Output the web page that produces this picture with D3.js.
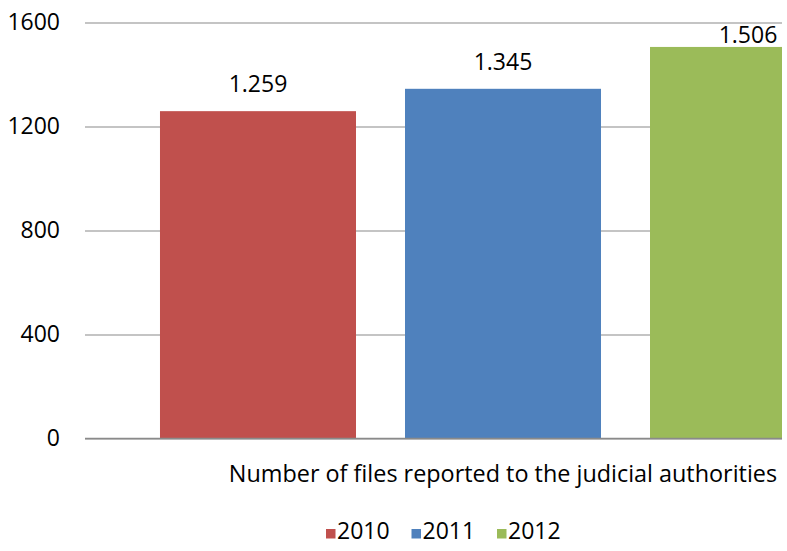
<!DOCTYPE html>
<html>
<head>
<meta charset="utf-8">
<script src="https://cdn.jsdelivr.net/npm/d3@7"></script>
<style>
  body { margin: 0; background: #fff; }
  svg text { font-family: "Open Sans", sans-serif; fill: #000; }
</style>
</head>
<body>
<div id="chart"></div>
<script>
// data
const category = 'Number of files reported to the judicial authorities';
const years = ['2010', '2011', '2012'];
const values = [1259, 1345, 1506];
const labels = ['1.259', '1.345', '1.506'];
const yTicks = [0, 400, 800, 1200, 1600];
const colors = ['#C0504D', '#4F81BD', '#9BBB59'];

const W = 787, H = 551;
const MARGIN = { LEFT: 85, TOP: 22.5 };
const PLOT_W = 836, PLOT_H = 416;
const CLIP_W = 697; // the reference is cut off on the right

const svg = d3.select('#chart')
    .append('svg')
    .attr('width', W)
    .attr('height', H);

const y = d3.scaleLinear()
    .domain([0, 1600])
    .range([MARGIN.TOP + PLOT_H, MARGIN.TOP]);

const x0 = d3.scaleBand()
    .domain([category])
    .range([MARGIN.LEFT, MARGIN.LEFT + PLOT_W])
    .paddingInner(0)
    .paddingOuter(0.1093);

const x1 = d3.scaleBand()
    .domain(years)
    .range([0, x0.bandwidth()])
    .paddingInner(0.2)
    .paddingOuter(0);

svg.append('clipPath')
    .attr('id', 'clip')
    .append('rect')
    .attr('x', MARGIN.LEFT)
    .attr('y', 0)
    .attr('width', CLIP_W)
    .attr('height', H);

const plot = svg.append('g').attr('clip-path', 'url(#clip)');

// gridlines
const yAxis = d3.axisLeft(y)
    .tickValues(yTicks)
    .tickSize(-PLOT_W)
    .tickPadding(25)
    .tickFormat(d3.format('d'));

const yAxisGroup = plot.append('g')
    .attr('transform', `translate(${MARGIN.LEFT},0)`)
    .call(yAxis);
yAxisGroup.select('.domain').remove();
yAxisGroup.selectAll('.tick line')
    .attr('stroke', '#8a8a8a')
    .attr('stroke-width', 1.2);
yAxisGroup.selectAll('.tick text').remove();

// tick labels outside the clip
const tickLabels = svg.append('g')
    .attr('transform', `translate(${MARGIN.LEFT},0)`)
    .call(d3.axisLeft(y).tickValues(yTicks).tickSize(0).tickPadding(25).tickFormat(d3.format('d')));
tickLabels.select('.domain').remove();
tickLabels.selectAll('.tick text')
    .attr('font-size', 23)
    .attr('fill', '#000')
    .attr('font-family', '"Open Sans", sans-serif');

// bars
const group = plot.append('g')
    .attr('transform', `translate(${x0(category)},0)`);

group.selectAll('rect.bar')
    .data(years)
    .enter()
    .append('rect')
    .attr('class', 'bar')
    .attr('x', d => x1(d))
    .attr('y', (d, i) => y(values[i]))
    .attr('width', x1.bandwidth())
    .attr('height', (d, i) => y(0) - y(values[i]))
    .attr('fill', (d, i) => colors[i]);

// zero axis line on top
plot.append('line')
    .attr('x1', MARGIN.LEFT)
    .attr('x2', MARGIN.LEFT + PLOT_W)
    .attr('y1', y(0))
    .attr('y2', y(0))
    .attr('stroke', '#8a8a8a')
    .attr('stroke-width', 1.5);

// value labels
svg.append('g')
    .selectAll('text')
    .data(years)
    .enter()
    .append('text')
    .attr('x', d => x0(category) + x1(d) + x1.bandwidth() / 2)
    .attr('y', (d, i) => Math.max(y(values[i]) - 19, y(1600) + 20.5))
    .attr('text-anchor', 'middle')
    .attr('font-size', 23)
    .text((d, i) => labels[i]);

// category label
svg.append('text')
    .attr('x', x0(category) + x0.bandwidth() / 2)
    .attr('y', 482)
    .attr('text-anchor', 'middle')
    .attr('font-size', 23.4)
    .text(category);

// legend
const legend = svg.append('g')
    .attr('transform', 'translate(326,0)');
const legendItems = legend.selectAll('g')
    .data(years)
    .enter()
    .append('g')
    .attr('transform', (d, i) => `translate(${i * 85.5},0)`);
legendItems.append('rect')
    .attr('x', 0)
    .attr('y', 529)
    .attr('width', 9.5)
    .attr('height', 9.5)
    .attr('fill', (d, i) => colors[i]);
legendItems.append('text')
    .attr('x', 11)
    .attr('y', 538.5)
    .attr('font-size', 23)
    .text(d => d);
</script>
</body>
</html>
